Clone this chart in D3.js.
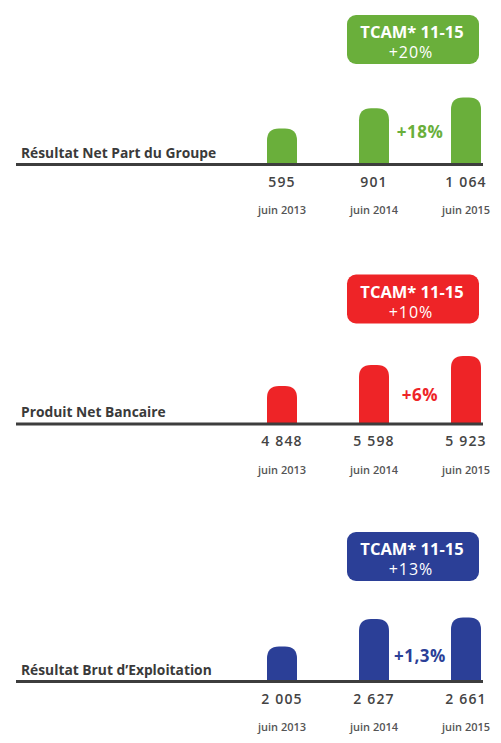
<!DOCTYPE html>
<html>
<head>
<meta charset="utf-8">
<script src="https://cdn.jsdelivr.net/npm/d3@7"></script>
<style>
  html, body { margin: 0; padding: 0; background: #ffffff; }
  svg { display: block; }
</style>
</head>
<body>
<svg id="chart" width="501" height="743"></svg>
<script>
// ---- Data ----
const categories = ["juin 2013", "juin 2014", "juin 2015"];
const metrics = ["Résultat Net Part du Groupe", "Produit Net Bancaire", "Résultat Brut d’Exploitation"];
const rnpgValues = [595, 901, 1064];
const pnbValues = [4848, 5598, 5923];
const rbeValues = [2005, 2627, 2661];
const growthLabels = ["+18%", "+6%", "+1,3%"];
const tcamLabels = ["+20%", "+10%", "+13%"];
const badgeTitle = "TCAM* 11-15";

// ---- Layout / style (kept apart from data) ----
const colors = ["#6aaf3b", "#ee2427", "#2b3f97"];
const baselines = [164.5, 424, 681.5];
const domainLows = [50, 3486, 1213];
const maxHeights = [67, 68, 64];
const growthOffsets = [-26.5, -23, -19.5];
const seriesList = [rnpgValues, pnbValues, rbeValues];
const FONT = "'Open Sans', sans-serif";

const svg = d3.select("#chart");
const fr = d3.formatLocale({ decimal: ",", thousands: "\u2009", grouping: [3], currency: ["", " €"] });
const fmt = v => fr.format(",d")(v).replace(/\u2009/g, " ");

const x = d3.scalePoint().domain(categories).range([282, 466]);
const barW = 30, r = 12;

function barPath(x0, y0, w, h, rad) {
  const rr = Math.min(rad, h, w / 2);
  return `M${x0},${y0 + h}V${y0 + rr}Q${x0},${y0} ${x0 + rr},${y0}H${x0 + w - rr}Q${x0 + w},${y0} ${x0 + w},${y0 + rr}V${y0 + h}Z`;
}

seriesList.forEach((vals, i) => {
  const base = baselines[i];
  const g = svg.append("g");
  const y = d3.scaleLinear().domain([domainLows[i], d3.max(vals)]).range([base, base - maxHeights[i]]);

  // bars
  g.selectAll("path.bar").data(vals).join("path")
    .attr("class", "bar")
    .attr("fill", colors[i])
    .attr("d", (d, j) => barPath(x(categories[j]) - barW / 2, y(d), barW, base - y(d), r));

  // baseline
  g.append("line")
    .attr("x1", 16).attr("x2", 483)
    .attr("y1", base).attr("y2", base)
    .attr("stroke", "#3d3d3d").attr("stroke-width", 3);

  // metric label
  g.append("text")
    .attr("x", 21).attr("y", base - 7)
    .attr("font-family", FONT).attr("font-weight", 700)
    .attr("font-size", 13.8).attr("fill", "#3a3a3a")
    .text(metrics[i]);

  // values
  g.selectAll("text.val").data(vals).join("text")
    .attr("class", "val")
    .attr("x", (d, j) => x(categories[j]))
    .attr("y", base + 22)
    .attr("text-anchor", "middle")
    .attr("font-family", FONT).attr("font-weight", 600)
    .attr("font-size", 14).attr("letter-spacing", 1.2).attr("fill", "#444")
    .text(d => fmt(d));

  // category labels
  g.selectAll("text.cat").data(categories).join("text")
    .attr("class", "cat")
    .attr("x", d => x(d))
    .attr("y", base + 49.5)
    .attr("text-anchor", "middle")
    .attr("font-family", FONT).attr("font-weight", 600)
    .attr("font-size", 11).attr("fill", "#555")
    .text(d => d);

  // growth annotation
  const gx = (x(categories[1]) + x(categories[2])) / 2;
  g.append("text")
    .attr("x", gx).attr("y", base + growthOffsets[i])
    .attr("text-anchor", "middle")
    .attr("font-family", FONT).attr("font-weight", 700)
    .attr("font-size", 17).attr("letter-spacing", 0.5).attr("fill", colors[i])
    .text(growthLabels[i]);

  // badge
  const bTop = base - 149.5;
  g.append("rect")
    .attr("x", 347).attr("y", bTop).attr("width", 132).attr("height", 49)
    .attr("rx", 9).attr("fill", colors[i]);
  g.append("text")
    .attr("x", 412).attr("y", bTop + 23)
    .attr("text-anchor", "middle")
    .attr("font-family", FONT).attr("font-weight", 700)
    .attr("font-size", 16.5).attr("fill", "#fff")
    .text(badgeTitle);
  g.append("text")
    .attr("x", 411).attr("y", bTop + 43)
    .attr("text-anchor", "middle")
    .attr("font-family", FONT).attr("font-weight", 400)
    .attr("font-size", 16).attr("letter-spacing", 1).attr("fill", "#fff")
    .text(tcamLabels[i]);
});
</script>
</body>
</html>
